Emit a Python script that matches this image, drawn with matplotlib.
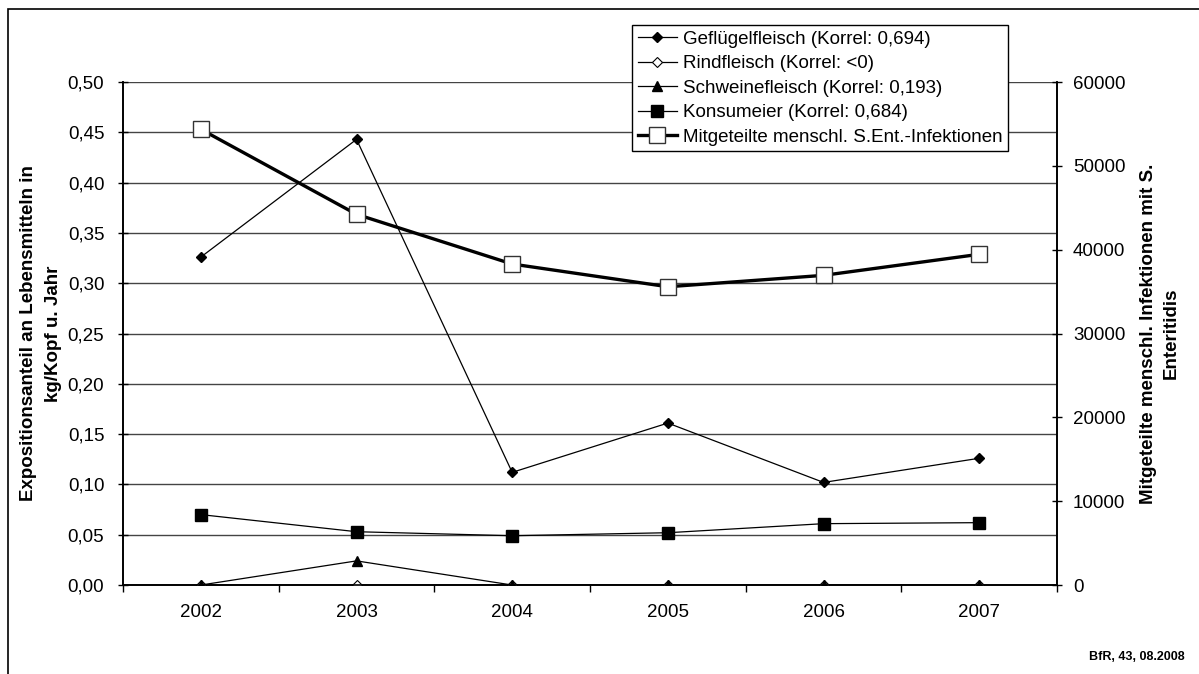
import numpy as np
import matplotlib.pyplot as plt
from matplotlib.patches import Rectangle
from matplotlib.ticker import FuncFormatter, FixedLocator

plt.rcParams['font.family'] = ['Liberation Sans', 'DejaVu Sans']

years = ['2002', '2003', '2004', '2005', '2006', '2007']
gefluegel = [0.326, 0.443, 0.112, 0.161, 0.102, 0.126]
rind = [0.0, 0.0, 0.0, 0.0, 0.0, 0.0]
schwein = [0.0, 0.024, 0.0, 0.0, 0.0, 0.0]
eier = [0.070, 0.053, 0.049, 0.052, 0.061, 0.062]
infektionen = [54360, 44220, 38290, 35580, 36940, 39450]

x = np.arange(len(years))
fs = 13.5

fig = plt.figure(figsize=(11.99, 6.74), dpi=100)
ax = fig.add_axes([0.1026, 0.1320, 0.779, 0.7463])
ax2 = ax.twinx()

# outer frame of the chart (runs off right/bottom edges)
fig.patches.append(Rectangle((8/1199, -0.05), 1.1, 1 - 9/674 + 0.05,
                             transform=fig.transFigure, fill=False,
                             edgecolor='black', linewidth=1.2))

for v in np.arange(0, 0.501, 0.05):
    ax.axhline(v, color='#444444', linewidth=1.0, zorder=1)

l1, = ax.plot(x, gefluegel, color='black', lw=0.9, marker='D', ms=5.5,
              mfc='black', mec='black', zorder=3,
              label='Geflügelfleisch (Korrel: 0,694)')
l2, = ax.plot(x, rind, color='black', lw=0.9, marker='D', ms=5.5,
              mfc='white', mec='black', mew=0.8, zorder=3,
              label='Rindfleisch (Korrel: <0)')
l3, = ax.plot(x, schwein, color='black', lw=0.9, marker='^', ms=7,
              mfc='black', mec='black', zorder=4,
              label='Schweinefleisch (Korrel: 0,193)')
l4, = ax.plot(x, eier, color='black', lw=0.9, marker='s', ms=8.5,
              mfc='black', mec='black', zorder=4,
              label='Konsumeier (Korrel: 0,684)')
l5, = ax2.plot(x, infektionen, color='black', lw=2.4, marker='s', ms=11.5,
               mfc='white', mec='#333333', mew=1.0, zorder=5,
               label='Mitgeteilte menschl. S.Ent.-Infektionen')

ax.set_xlim(-0.5, 5.5)
ax.set_ylim(0, 0.5)
ax2.set_ylim(0, 60000)

ax.set_yticks(np.arange(0, 0.501, 0.05))
ax.yaxis.set_major_formatter(FuncFormatter(lambda v, p: f'{v:.2f}'.replace('.', ',')))
ax2.set_yticks(np.arange(0, 60001, 10000))

ax.set_xticks(x)
ax.set_xticklabels(years)
ax.xaxis.set_minor_locator(FixedLocator(np.arange(-0.5, 5.6, 1)))
ax.tick_params(axis='x', which='major', length=0, pad=14, labelsize=fs)
ax.tick_params(axis='x', which='minor', length=5, direction='out', width=1)
ax.tick_params(axis='y', length=7, direction='inout', width=1, labelsize=fs, pad=10)
ax2.tick_params(axis='y', length=7, direction='inout', width=1, labelsize=fs, pad=8)

for a in (ax, ax2):
    a.spines['top'].set_visible(False)
    for s in ('left', 'right', 'bottom'):
        a.spines[s].set_linewidth(1.2)

ax.set_ylabel('Expositionsanteil an Lebensmitteln in\nkg/Kopf u. Jahr',
              fontsize=fs, fontweight='bold', linespacing=1.55, va='center')
ax.yaxis.set_label_coords((41 - 123) / 934, 0.5)
ax2.set_ylabel('Mitgeteilte menschl. Infektionen mit S.\nEnteritidis',
               fontsize=fs, fontweight='bold', rotation=90, linespacing=1.45,
               va='center')
ax2.yaxis.set_label_coords((1160 - 123) / 934, 0.5)

leg = ax2.legend(handles=[l1, l2, l3, l4, l5], loc='upper right',
                 bbox_to_anchor=(1008/1199, 1 - 25/674),
                 bbox_transform=fig.transFigure, fontsize=fs,
                 frameon=True, fancybox=False, edgecolor='black',
                 framealpha=1, handlelength=2.1, handletextpad=0.3,
                 labelspacing=0.39, borderpad=0.3, borderaxespad=0)
leg.get_frame().set_linewidth(1.0)
leg.set_zorder(10)

fig.text(1185/1199, 1 - 657/674, 'BfR, 43, 08.2008', fontsize=9,
         fontweight='bold', ha='right', va='center')

fig.savefig('out.png', dpi=100)
